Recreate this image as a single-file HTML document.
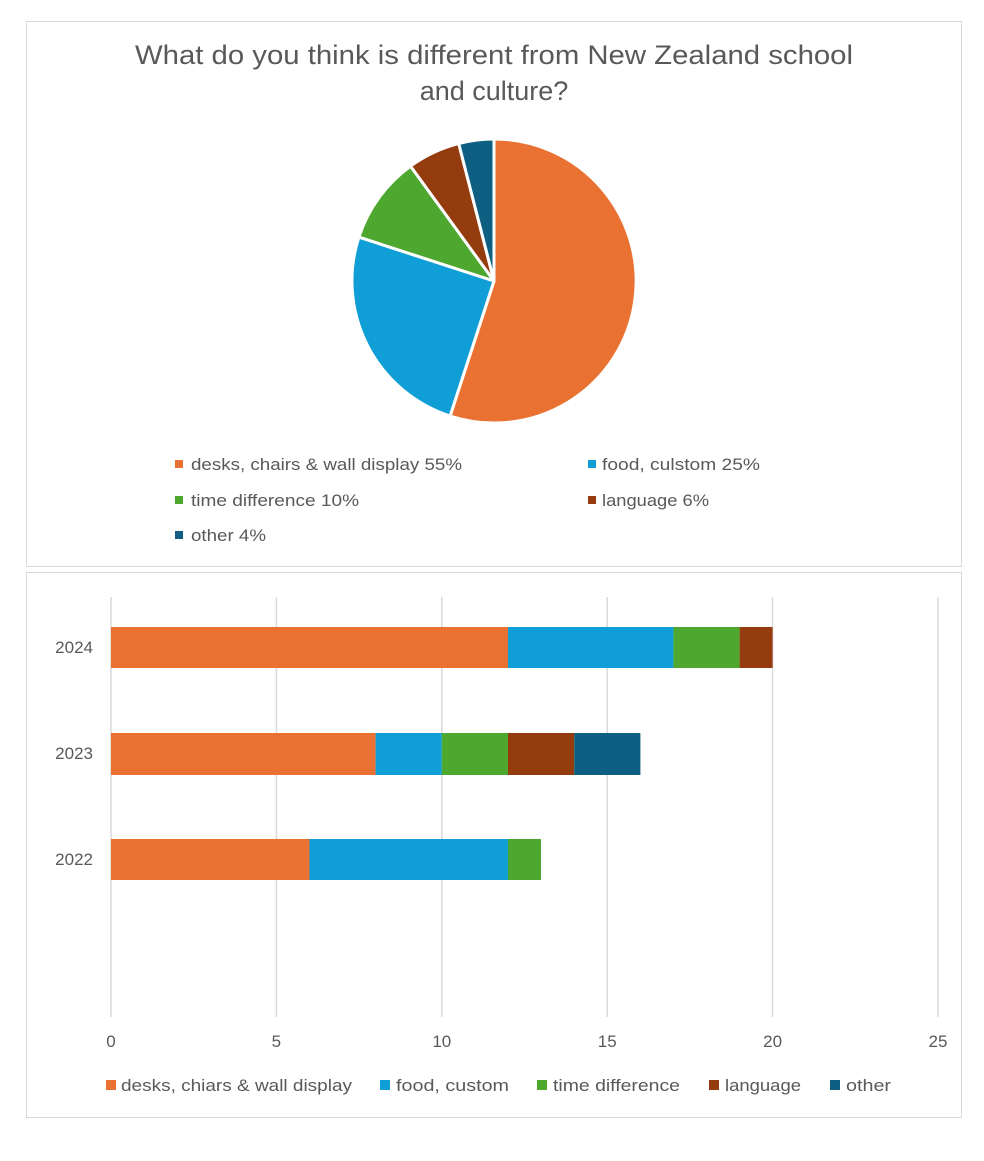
<!DOCTYPE html>
<html><head><meta charset="utf-8"><style>
body{margin:0;background:#fff;font-family:"Liberation Sans",sans-serif;}
svg text{font-family:"Liberation Sans",sans-serif;fill:#595959}
</style></head><body>
<svg width="984" height="1156" viewBox="0 0 984 1156" xmlns="http://www.w3.org/2000/svg">
<rect x="26.5" y="21.5" width="935" height="545" fill="#fff" stroke="#d9d9d9"/>
<rect x="26.5" y="572.5" width="935" height="545" fill="#fff" stroke="#d9d9d9"/>
<text x="135" y="64" font-size="27" textLength="718" lengthAdjust="spacingAndGlyphs">What do you think is different from New Zealand school</text>
<text x="494" y="100" font-size="27" text-anchor="middle">and culture?</text>
<g stroke="#fff" stroke-width="3" stroke-linejoin="round">
<path d="M494,281 L494,139 A142,142 0 1 1 450.1,416 Z" fill="#E97132"/>
<path d="M494,281 L450.1,416 A142,142 0 0 1 358.9,237.1 Z" fill="#0F9ED5"/>
<path d="M494,281 L358.9,237.1 A142,142 0 0 1 410.5,166.1 Z" fill="#4EA72E"/>
<path d="M494,281 L410.5,166.1 A142,142 0 0 1 458.7,143.5 Z" fill="#953C0F"/>
<path d="M494,281 L458.7,143.5 A142,142 0 0 1 494,139 Z" fill="#0E5F82"/>
</g>
<g font-size="17">
<rect x="175" y="460" width="8" height="8" fill="#E97132"/><text x="191" y="470" textLength="271" lengthAdjust="spacingAndGlyphs">desks, chairs &amp; wall display 55%</text>
<rect x="588" y="460" width="8" height="8" fill="#0F9ED5"/><text x="602" y="470" textLength="158" lengthAdjust="spacingAndGlyphs">food, culstom 25%</text>
<rect x="175" y="496" width="8" height="8" fill="#4EA72E"/><text x="191" y="506" textLength="168" lengthAdjust="spacingAndGlyphs">time difference 10%</text>
<rect x="588" y="496" width="8" height="8" fill="#953C0F"/><text x="602" y="506" textLength="107" lengthAdjust="spacingAndGlyphs">language 6%</text>
<rect x="175" y="531" width="8" height="8" fill="#0E5F82"/><text x="191" y="541" textLength="75" lengthAdjust="spacingAndGlyphs">other 4%</text>
</g>
<g stroke="#d9d9d9" stroke-width="1.5">
<line x1="111" y1="597" x2="111" y2="1017"/><line x1="276.4" y1="597" x2="276.4" y2="1017"/>
<line x1="441.8" y1="597" x2="441.8" y2="1017"/><line x1="607.2" y1="597" x2="607.2" y2="1017"/>
<line x1="772.6" y1="597" x2="772.6" y2="1017"/><line x1="938" y1="597" x2="938" y2="1017"/>
</g>
<rect x="111" y="627" width="397" height="41" fill="#E97132"/>
<rect x="508" y="627" width="165.4" height="41" fill="#0F9ED5"/>
<rect x="673.4" y="627" width="66.2" height="41" fill="#4EA72E"/>
<rect x="739.6" y="627" width="33" height="41" fill="#953C0F"/>
<rect x="111" y="733" width="264.6" height="42" fill="#E97132"/>
<rect x="375.6" y="733" width="66.2" height="42" fill="#0F9ED5"/>
<rect x="441.8" y="733" width="66.2" height="42" fill="#4EA72E"/>
<rect x="508" y="733" width="66.2" height="42" fill="#953C0F"/>
<rect x="574.2" y="733" width="66.2" height="42" fill="#0E5F82"/>
<rect x="111" y="839" width="198.5" height="41" fill="#E97132"/>
<rect x="309.5" y="839" width="198.5" height="41" fill="#0F9ED5"/>
<rect x="508" y="839" width="33" height="41" fill="#4EA72E"/>
<g font-size="17" text-anchor="end">
<text x="93" y="653">2024</text><text x="93" y="759">2023</text><text x="93" y="865">2022</text>
</g>
<g font-size="17" text-anchor="middle">
<text x="111" y="1047">0</text><text x="276.4" y="1047">5</text><text x="441.8" y="1047">10</text>
<text x="607.2" y="1047">15</text><text x="772.6" y="1047">20</text><text x="938" y="1047">25</text>
</g>
<g font-size="17">
<rect x="106" y="1080" width="10" height="10" fill="#E97132"/><text x="121" y="1091" textLength="231" lengthAdjust="spacingAndGlyphs">desks, chiars &amp; wall display</text>
<rect x="380" y="1080" width="10" height="10" fill="#0F9ED5"/><text x="396" y="1091" textLength="113" lengthAdjust="spacingAndGlyphs">food, custom</text>
<rect x="537" y="1080" width="10" height="10" fill="#4EA72E"/><text x="553" y="1091" textLength="127" lengthAdjust="spacingAndGlyphs">time difference</text>
<rect x="709" y="1080" width="10" height="10" fill="#953C0F"/><text x="725" y="1091" textLength="76" lengthAdjust="spacingAndGlyphs">language</text>
<rect x="830" y="1080" width="10" height="10" fill="#0E5F82"/><text x="846" y="1091" textLength="45" lengthAdjust="spacingAndGlyphs">other</text>
</g>
</svg>
</body></html>
